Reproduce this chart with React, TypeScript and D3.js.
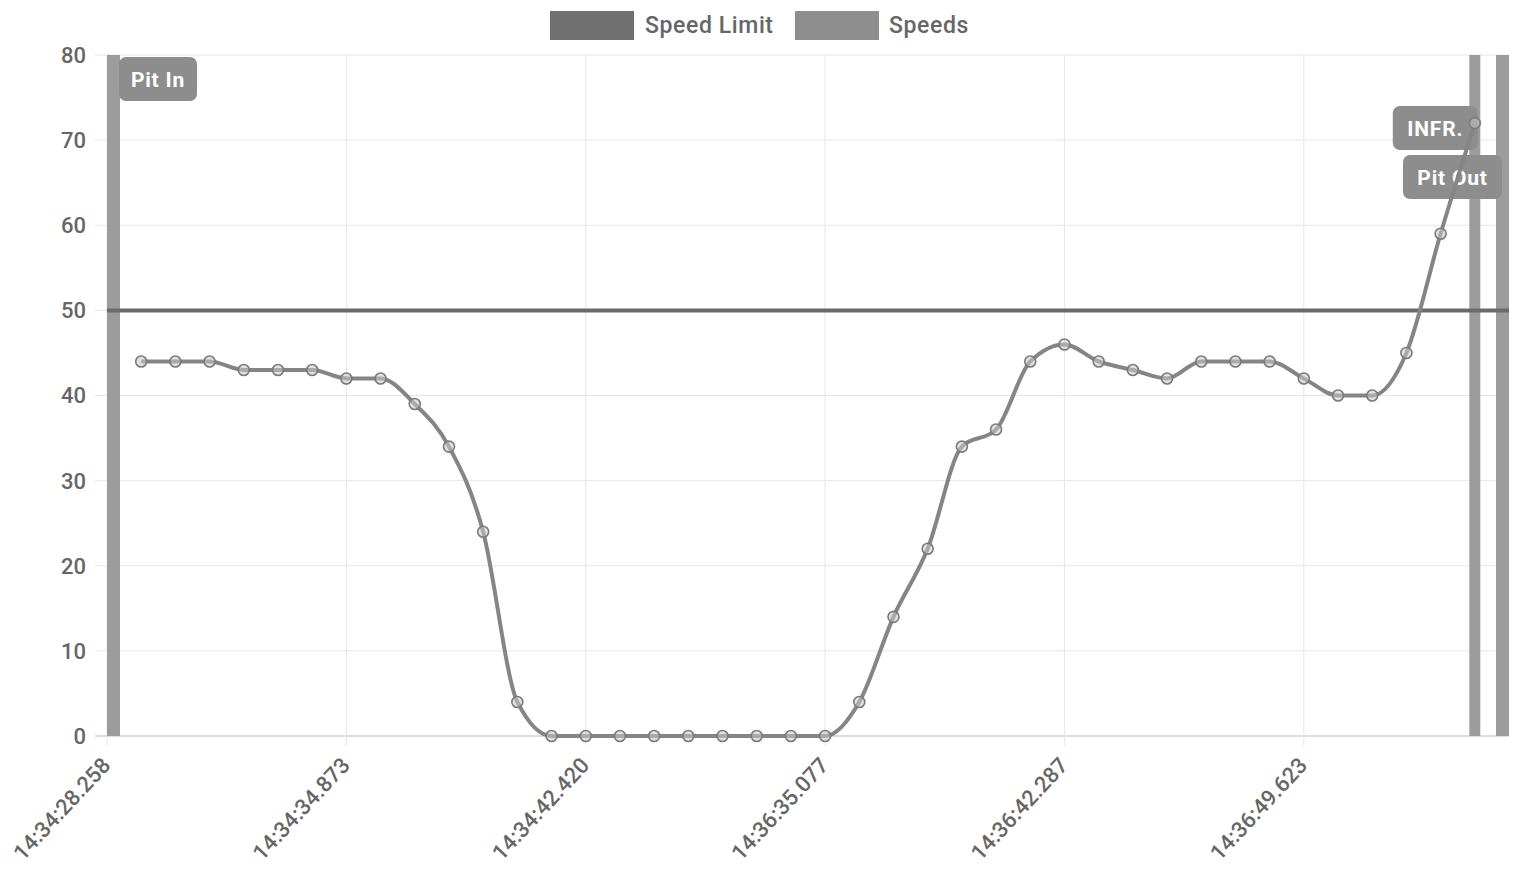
import React from "react";
import * as d3 from "d3";

// ---- data ----
const speeds: (number | null)[] = [
  null, 44, 44, 44, 43, 43, 43, 42, 42, 39, 34, 24, 4, 0, 0, 0, 0, 0, 0, 0, 0, 0,
  4, 14, 22, 34, 36, 44, 46, 44, 43, 42, 44, 44, 44, 42, 40, 40, 45, 59, 72, null,
];
const speedLimit = 50;
const tickIndices = [0, 7, 14, 21, 28, 35];
const tickLabels = [
  "14:34:28.258",
  "14:34:34.873",
  "14:34:42.420",
  "14:36:35.077",
  "14:36:42.287",
  "14:36:49.623",
];
const yTicks = [0, 10, 20, 30, 40, 50, 60, 70, 80];
const markerIndices = [0, 40, 41];
const markerLabels = ["Pit In", "INFR.", "Pit Out"];
const legendLabels = ["Speed Limit", "Speeds"];

// ---- layout ----
const W = 1515;
const H = 886;
const left = 107;
const right = 1509;
const top = 55;
const bottom = 736;
const FONT = "Roboto, 'Open Sans', sans-serif";
const TEXT = "#666";

export default function App() {
  const x = d3.scaleLinear().domain([0, speeds.length - 1]).range([left, right]);
  const y = d3.scaleLinear().domain([0, 80]).range([bottom, top]);

  const line = d3
    .line<number | null>()
    .defined((d) => d != null)
    .x((_, i) => x(i))
    .y((d) => y(d as number))
    .curve(d3.curveMonotoneX);

  const barW = [26, 11, 26];
  const labelBox = [
    { dx: 12, dy: 2, w: 78 },
    { dx: -82, dy: 51, w: 85 },
    { dx: -106, dy: 100, w: 99 },
  ];

  return (
    <div style={{ position: "absolute", left: 0, top: 0 }}>
      <svg width={W} height={H} style={{ display: "block", background: "#fff" }}>
        <defs>
          <clipPath id="plot">
            <rect x={left} y={top} width={right - left} height={bottom - top} />
          </clipPath>
        </defs>

        {/* legend */}
        <g fontFamily={FONT} fontSize={23} fontWeight={500} fill={TEXT} letterSpacing={0.6}>
          <rect x={550} y={11} width={84} height={29} fill="#707070" />
          <text x={645} y={33}>{legendLabels[0]}</text>
          <rect x={795} y={11} width={84} height={29} fill="#8e8e8e" />
          <text x={889} y={33}>{legendLabels[1]}</text>
        </g>

        {/* horizontal grid */}
        {yTicks.map((t) => (
          <g key={"y" + t}>
            <line x1={left - 12} x2={right} y1={y(t)} y2={y(t)} stroke={t === 0 ? "#bdbdbd" : "#e6e6e6"} strokeWidth={1} />
            <text x={left - 21} y={y(t)} dy="0.36em" textAnchor="end" fontFamily={FONT} fontSize={22} fontWeight={500} fill={TEXT}>
              {t}
            </text>
          </g>
        ))}

        {/* vertical grid + x labels */}
        {tickIndices.map((ti, k) => (
          <g key={"x" + ti}>
            <line x1={x(ti)} x2={x(ti)} y1={top} y2={bottom + 10} stroke="#e6e6e6" strokeWidth={1} />
            <text
              transform={`translate(${x(ti) - 1},${bottom + 25}) rotate(-47)`}
              textAnchor="end"
              dy="0.36em"
              fontFamily={FONT}
              fontSize={22}
              fontWeight={500}
              fill={TEXT}
            >
              {tickLabels[k]}
            </text>
          </g>
        ))}

        {/* marker bars */}
        <g clipPath="url(#plot)">
          {markerIndices.map((mi, k) => (
            <rect key={"b" + k} x={x(mi) - barW[k] / 2} y={top} width={barW[k]} height={bottom - top} fill="#9c9c9c" />
          ))}
        </g>

        {/* marker labels */}
        {markerIndices.map((mi, k) => {
          const b = labelBox[k];
          const bx = x(mi) + b.dx;
          const by = top + b.dy;
          return (
            <g key={"l" + k}>
              <rect x={bx} y={by} width={b.w} height={44} rx={7} fill="#8d8d8d" />
              <text
                x={bx + b.w / 2}
                y={by + 22}
                dy="0.36em"
                textAnchor="middle"
                fontFamily={FONT}
                fontSize={21}
                fontWeight={700}
                letterSpacing={0.8}
                fill="#fff"
              >
                {markerLabels[k]}
              </text>
            </g>
          );
        })}

        {/* speed limit */}
        <line x1={left} x2={right} y1={y(speedLimit)} y2={y(speedLimit)} stroke="#6a6a6a" strokeWidth={4} />

        {/* speeds */}
        <path d={line(speeds) || ""} fill="none" stroke="#858585" strokeWidth={4} />
        {speeds.map((v, i) =>
          v == null ? null : (
            <circle key={"p" + i} cx={x(i)} cy={y(v)} r={5.5} fill="rgba(200,200,200,0.55)" stroke="#7a7a7a" strokeWidth={1.6} />
          )
        )}
      </svg>
    </div>
  );
}
